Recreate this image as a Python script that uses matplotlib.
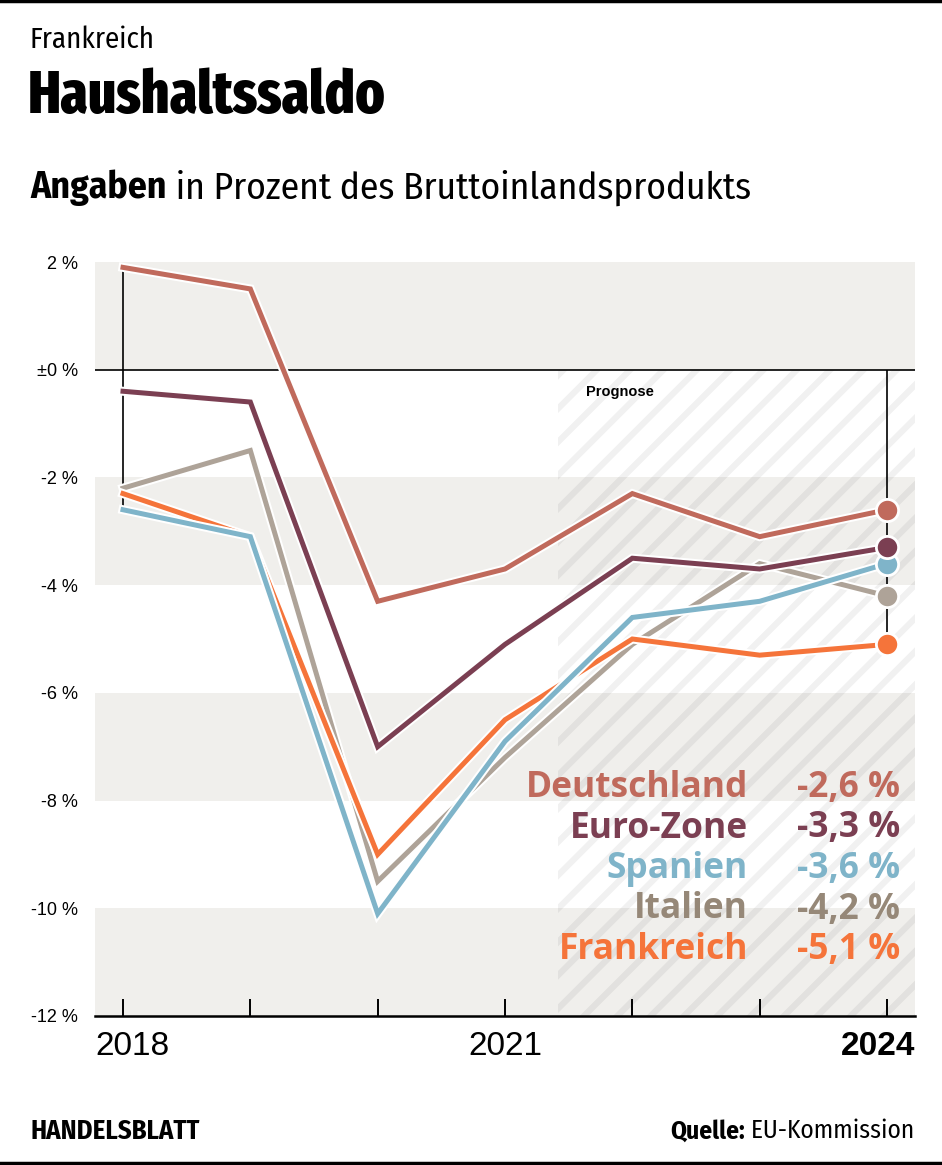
import matplotlib
matplotlib.use('Agg')
import matplotlib.pyplot as plt
import matplotlib.patheffects as pe

years = [2018, 2019, 2020, 2021, 2022, 2023, 2024]
countries = ['Italien', 'Frankreich', 'Spanien', 'Euro-Zone', 'Deutschland']
deutschland = [1.9, 1.5, -4.3, -3.7, -2.3, -3.1, -2.6]
eurozone = [-0.4, -0.6, -7.0, -5.1, -3.5, -3.7, -3.3]
spanien = [-2.6, -3.1, -10.1, -6.9, -4.6, -4.3, -3.6]
italien = [-2.2, -1.5, -9.5, -7.2, -5.1, -3.6, -4.2]
frankreich = [-2.3, -3.1, -9.0, -6.5, -5.0, -5.3, -5.1]
values = {'Deutschland': deutschland, 'Euro-Zone': eurozone, 'Spanien': spanien,
          'Italien': italien, 'Frankreich': frankreich}
line_colors = {'Deutschland': '#c06a5c', 'Euro-Zone': '#7b3f52', 'Spanien': '#7fb4c9',
               'Italien': '#aea398', 'Frankreich': '#f5743a'}
text_colors = {'Deutschland': '#c06a5c', 'Euro-Zone': '#7b3f52', 'Spanien': '#7fb4c9',
               'Italien': '#968878', 'Frankreich': '#f5743a'}
yticks = [2, 0, -2, -4, -6, -8, -10, -12]
ytick_labels = ['2 %', '±0 %', '-2 %', '-4 %', '-6 %', '-8 %', '-10 %', '-12 %']
prognose_start = 2021.42

W, H = 942, 1165
cond = ['Fira Sans Condensed', 'Liberation Sans', 'DejaVu Sans']
xcond = ['Fira Sans Extra Condensed', 'Fira Sans Condensed', 'Liberation Sans', 'DejaVu Sans']
legend_font = ['Open Sans', 'Lato', 'DejaVu Sans']
plt.rcParams['hatch.linewidth'] = 4.5

fig = plt.figure(figsize=(W / 100, H / 100), dpi=100)
renderer = fig.canvas.get_renderer()


def fit_text(x, y, s, width, **kw):
    # place text at pixel coords and scale the font so it spans `width` px
    t = fig.text(x / W, 1 - y / H, s, **kw)
    w = t.get_window_extent(renderer).width
    t.set_fontsize(t.get_fontsize() * width / w)
    return t


ax = fig.add_axes([95 / W, 1 - 1016 / H, 820 / W, 754 / H])
ax.set_xlim(2017.78, 2024.22)
ax.set_ylim(-12, 2)

# grey bands
for top in [2, -2, -6, -10]:
    ax.axhspan(top - 2, top, color='#f0efec', lw=0, zorder=0)

# forecast area
ax.fill_between([prognose_start, 2024.22], -12, 0, facecolor='none',
                edgecolor=(0, 0, 0, 0.055), hatch='/', linewidth=0, zorder=1)
ax.text(2021.64, -0.42, 'Prognose', fontsize=10.5, fontweight='bold',
        family='Liberation Sans', va='center', ha='left', zorder=6)

ax.axhline(0, color='black', lw=1.2, zorder=2)

# range lines
first = [values[c][0] for c in countries]
last = [values[c][-1] for c in countries]
ax.vlines(years[0], min(first), max(first), color='black', lw=1.2, zorder=2)
ax.vlines(years[-1], min(last), 0, color='black', lw=1.2, zorder=2)

for i, c in enumerate(countries):
    ax.plot(years, values[c], color=line_colors[c], lw=3.6, solid_joinstyle='miter',
            zorder=3 + i * 0.1,
            path_effects=[pe.Stroke(linewidth=6.5, foreground='white'), pe.Normal()])
for i, c in enumerate(countries):
    ax.plot(years[-1], values[c][-1], 'o', ms=16, mfc=line_colors[c], mec='white',
            mew=2, zorder=4 + i * 0.1)

for s in ['top', 'right', 'left']:
    ax.spines[s].set_visible(False)
ax.spines['bottom'].set_linewidth(1.8)
ax.spines['bottom'].set_zorder(5)

ax.set_yticks(yticks)
ax.set_yticklabels(ytick_labels, family='Liberation Sans', fontsize=13)
ax.tick_params(axis='y', left=False, pad=9)
ax.set_xticks(years)
ax.set_xticklabels([])
ax.tick_params(axis='x', direction='in', length=12, width=1.4, color='black')

ax.text(0, -0.04, '2018', transform=ax.transAxes, ha='left', va='center',
        fontsize=24, family='Liberation Sans')
ax.text(2021, -0.04, '2021', transform=ax.get_xaxis_transform(), ha='center',
        va='center', fontsize=24, family='Liberation Sans')
ax.text(1, -0.04, '2024', transform=ax.transAxes, ha='right', va='center',
        fontsize=24, family='Liberation Sans', fontweight='bold')

# legend with final values
order = sorted(countries, key=lambda c: values[c][-1], reverse=True)
for k, c in enumerate(order):
    y = 1 - (788 + k * 40.5) / H
    v = f"{values[c][-1]:.1f}".replace('.', ',') + ' %'
    fig.text(748 / W, y, c, color=text_colors[c], fontsize=25.5, fontweight='bold',
             family=legend_font, ha='right', va='center', zorder=10)
    fig.text(900 / W, y, v, color=text_colors[c], fontsize=25.5, fontweight='bold',
             family=legend_font, ha='right', va='center', zorder=10)

# header
fit_text(30, 40, 'Frankreich', 125, fontsize=16, family=cond, va='center')
fit_text(28, 97, 'Haushaltssaldo', 358, fontsize=44, family=xcond, fontweight='heavy',
         va='center')
a = fig.text(30 / W, 1 - 188 / H, 'Angaben', fontsize=22, family=cond,
             fontweight='bold', va='center')
b = fig.text(0, 1 - 188 / H, ' in Prozent des Bruttoinlandsprodukts', fontsize=22,
             family=cond, va='center')
wa = a.get_window_extent(renderer).width
wb = b.get_window_extent(renderer).width
scale = 722 / (wa + wb)
a.set_fontsize(22 * scale)
b.set_fontsize(22 * scale)
b.set_x((30 + wa * scale) / W)

# footer
fit_text(30, 1131, 'HANDELSBLATT', 170, fontsize=14, family=cond, fontweight='bold',
         va='center')
q1 = fig.text(0, 1 - 1131 / H, 'Quelle:', fontsize=14, family=cond, fontweight='bold',
              va='center')
q2 = fig.text(0, 1 - 1131 / H, ' EU-Kommission', fontsize=14, family=cond, va='center')
w1 = q1.get_window_extent(renderer).width
w2 = q2.get_window_extent(renderer).width
scale = 244 / (w1 + w2)
q1.set_fontsize(14 * scale)
q2.set_fontsize(14 * scale)
q1.set_x((914 - (w1 + w2) * scale) / W)
q2.set_x((914 - w2 * scale) / W)

# rules
fig.add_artist(plt.Line2D([0, 1], [1 - 1 / H, 1 - 1 / H], color='black', lw=2.5))
fig.add_artist(plt.Line2D([0, 1], [1 - 1163 / H, 1 - 1163 / H], color='black', lw=2.5))

fig.savefig('out.png', dpi=100)
